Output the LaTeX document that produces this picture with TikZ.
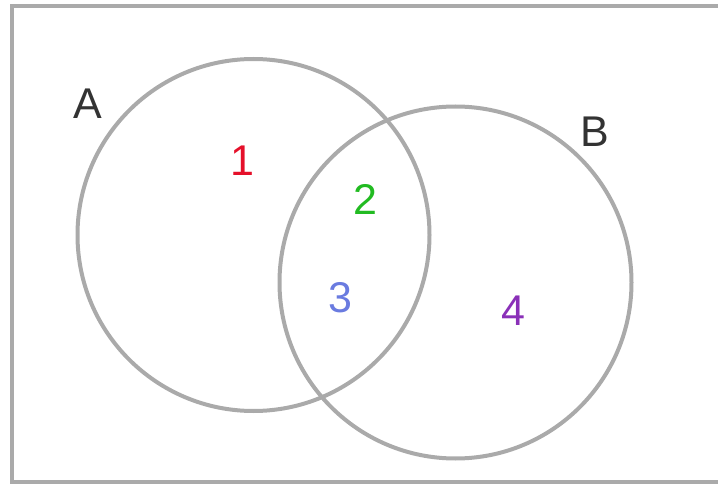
\documentclass[tikz,border=0pt]{standalone}
\usepackage{fontspec}
\setmainfont{Liberation Sans}
\definecolor{edge}{HTML}{AAAAAA}
\definecolor{lab}{HTML}{333333}
\definecolor{cred}{HTML}{E5102A}
\definecolor{cgreen}{HTML}{22BB22}
\definecolor{cblue}{HTML}{6A7BE0}
\definecolor{cpurple}{HTML}{8A30B8}
\begin{document}
\begin{tikzpicture}[x=1pt,y=-1pt,
  setline/.style={draw=edge,line width=4pt},
  setlabel/.style={font=\fontsize{43}{43}\selectfont,text=lab,inner sep=0pt},
  region/.style={font=\fontsize{43}{43}\selectfont,inner sep=0pt}]
\useasboundingbox (0,0) rectangle (718,484);
\coordinate (tr) at (720,6.5);
\coordinate (tl) at (12,6.5);
\coordinate (bl) at (12,481.5);
\coordinate (br) at (720,481.5);
\draw[setline] (tr) -- (tl) -- (bl) -- (br);
\node[setline,circle,minimum size=352pt,inner sep=0pt] (ca) at (253.5,235) {};
\node[setline,circle,minimum size=352pt,inner sep=0pt] (cb) at (455.5,282.5) {};
\node[setlabel] (la) at (88,104) {A};
\node[setlabel] (lb) at (595,132) {B};
\node[region,text=cred] (r1) at (242,161) {1};
\node[region,text=cgreen] (r2) at (365,199) {2};
\node[region,text=cblue] (r3) at (340,298) {3};
\node[region,text=cpurple] (r4) at (513,311) {4};
\end{tikzpicture}
\end{document}
